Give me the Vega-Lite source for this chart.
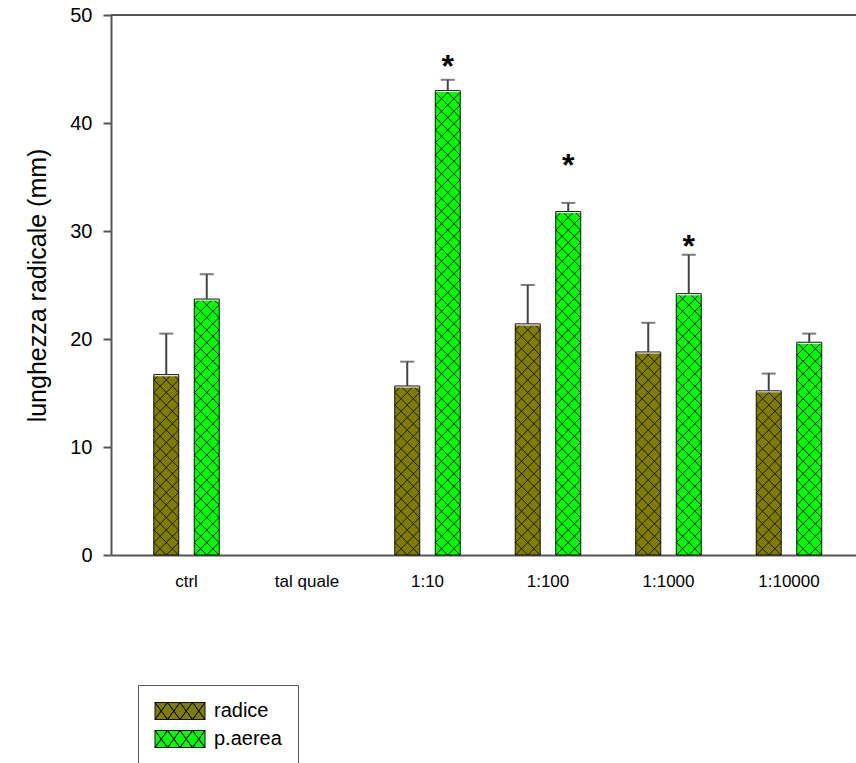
{
  "$schema": "https://vega.github.io/schema/vega-lite/v6.json",
  "width": 745,
  "height": 540,
  "autosize": {"type": "none"},
  "padding": {"left": 111, "top": 15, "right": 0, "bottom": 208},
  "background": "white",
  "config": {
    "font": "Liberation Sans",
    "view": {"stroke": null},
    "axis": {"domainColor": "#555", "domainWidth": 2, "tickColor": "#555", "tickWidth": 2, "labelColor": "#000", "titleColor": "#000", "grid": false}
  },
  "datasets": {
    "bars": [
      {"cat": "ctrl", "serie": "radice", "value": 16.7, "upper": 20.5, "star": null},
      {"cat": "ctrl", "serie": "p.aerea", "value": 23.7, "upper": 26.0, "star": null},
      {"cat": "1:10", "serie": "radice", "value": 15.65, "upper": 17.9, "star": null},
      {"cat": "1:10", "serie": "p.aerea", "value": 43.0, "upper": 44.0, "star": 45.6},
      {"cat": "1:100", "serie": "radice", "value": 21.4, "upper": 25.0, "star": null},
      {"cat": "1:100", "serie": "p.aerea", "value": 31.8, "upper": 32.6, "star": 36.4},
      {"cat": "1:1000", "serie": "radice", "value": 18.8, "upper": 21.5, "star": null},
      {"cat": "1:1000", "serie": "p.aerea", "value": 24.2, "upper": 27.8, "star": 28.9},
      {"cat": "1:10000", "serie": "radice", "value": 15.2, "upper": 16.8, "star": null},
      {"cat": "1:10000", "serie": "p.aerea", "value": 19.7, "upper": 20.5, "star": null}
    ]
  },
  "layer": [
    {
      "data": {"name": "bars"},
      "mark": {"type": "bar", "strokeWidth": 0},
      "encoding": {
        "x": {
          "field": "cat", "type": "nominal",
          "scale": {"domain": ["ctrl", "tal quale", "1:10", "1:100", "1:1000", "1:10000"], "paddingInner": 0, "paddingOuter": 0.0913, "align": 0.693},
          "axis": {"title": null, "ticks": false, "tickSize": 0, "labelPadding": 18, "labelFontSize": 17, "labelAlign": "center", "labelAngle": 0}
        },
        "xOffset": {
          "field": "serie", "type": "nominal",
          "scale": {"domain": ["radice", "p.aerea"], "paddingInner": 0.383, "paddingOuter": 0.679}
        },
        "y": {
          "field": "value", "type": "quantitative",
          "scale": {"domain": [0, 50], "nice": false},
          "axis": {"values": [0, 10, 20, 30, 40, 50], "tickSize": 8, "labelPadding": 11, "labelFontSize": 20, "title": "lunghezza radicale (mm)", "titleFontSize": 25, "titleFontWeight": "normal", "titleX": -74, "titleY": 270, "titleAngle": -90, "titleAlign": "center", "titleBaseline": "middle"}
        },
        "fill": {
          "field": "serie", "type": "nominal",
          "scale": {"domain": ["radice", "p.aerea"], "range": ["#807c00", "#00ff00"]},
          "legend": {
            "title": null, "orient": "none", "legendX": 27, "legendY": 670,
            "symbolType": "M-1.8,-1.7H8.2V1.7H-1.8ZM-1.8,-1.7L0.7,1.7L3.2,-1.7L5.7,1.7L8.2,-1.7L5.7,1.7L3.2,-1.7L0.7,1.7ZM-1.8,1.7L0.7,-1.7L3.2,1.7L5.7,-1.7L8.2,1.7L5.7,-1.7L3.2,1.7L0.7,-1.7Z",
            "symbolSize": 100, "symbolStrokeColor": "#111", "symbolStrokeWidth": 1, "symbolOpacity": 1,
            "labelOffset": 40, "labelFontSize": 20, "labelColor": "#000",
            "strokeColor": "#555", "padding": 16, "rowPadding": 6
          }
        }
      }
    },
    {
      "data": {"name": "bars"},
      "mark": {
        "type": "point", "filled": false, "size": 4, "opacity": 1, "stroke": "#1a1a1a", "strokeWidth": 1, "strokeJoin": "bevel",
        "shape": "M-12.3,0L12.3,-25L-12.3,-50L12.3,-75L-12.3,-100L12.3,-125L-12.3,-150L12.3,-175L-12.3,-200L12.3,-225L-12.3,-250L12.3,-275L-12.3,-300L12.3,-325L-12.3,-350L12.3,-375L-12.3,-400L12.3,-425L-12.3,-450L12.3,-475M12.3,0L-12.3,-25L12.3,-50L-12.3,-75L12.3,-100L-12.3,-125L12.3,-150L-12.3,-175L12.3,-200L-12.3,-225L12.3,-250L-12.3,-275L12.3,-300L-12.3,-325L12.3,-350L-12.3,-375L12.3,-400L-12.3,-425L12.3,-450L-12.3,-475M0,0L-12.3,-12.5L12.3,-37.5L-12.3,-62.5L12.3,-87.5L-12.3,-112.5L12.3,-137.5L-12.3,-162.5L12.3,-187.5L-12.3,-212.5L12.3,-237.5L-12.3,-262.5L12.3,-287.5L-12.3,-312.5L12.3,-337.5L-12.3,-362.5L12.3,-387.5L-12.3,-412.5L12.3,-437.5L-12.3,-462.5M0,0L12.3,-12.5L-12.3,-37.5L12.3,-62.5L-12.3,-87.5L12.3,-112.5L-12.3,-137.5L12.3,-162.5L-12.3,-187.5L12.3,-212.5L-12.3,-237.5L12.3,-262.5L-12.3,-287.5L12.3,-312.5L-12.3,-337.5L12.3,-362.5L-12.3,-387.5L12.3,-412.5L-12.3,-437.5L12.3,-462.5"
      },
      "encoding": {
        "x": {"field": "cat", "type": "nominal"},
        "xOffset": {"field": "serie", "type": "nominal"},
        "y": {"datum": 0, "type": "quantitative"}
      }
    },
    {
      "data": {"name": "bars"},
      "mark": {"type": "bar", "fill": "white", "stroke": "white", "strokeWidth": 3},
      "encoding": {
        "x": {"field": "cat", "type": "nominal"},
        "xOffset": {"field": "serie", "type": "nominal"},
        "y": {"field": "value", "type": "quantitative"},
        "y2": {"datum": 50}
      }
    },
    {
      "data": {"name": "bars"},
      "mark": {"type": "bar", "fill": null, "fillOpacity": 0, "stroke": "#111", "strokeWidth": 1},
      "encoding": {
        "x": {"field": "cat", "type": "nominal"},
        "xOffset": {"field": "serie", "type": "nominal"},
        "y": {"field": "value", "type": "quantitative"}
      }
    },
    {
      "data": {"name": "bars"},
      "mark": {"type": "rule", "color": "#444", "strokeWidth": 2},
      "encoding": {
        "x": {"field": "cat", "type": "nominal"},
        "xOffset": {"field": "serie", "type": "nominal"},
        "y": {"field": "value", "type": "quantitative"},
        "y2": {"field": "upper"}
      }
    },
    {
      "data": {"name": "bars"},
      "mark": {"type": "tick", "color": "#444", "thickness": 2, "size": 14},
      "encoding": {
        "x": {"field": "cat", "type": "nominal"},
        "xOffset": {"field": "serie", "type": "nominal"},
        "y": {"field": "upper", "type": "quantitative"}
      }
    },
    {
      "data": {"name": "bars"},
      "transform": [{"filter": "datum.star != null"}],
      "mark": {"type": "text", "text": "*", "fontSize": 32, "fontWeight": "bold", "baseline": "middle", "dy": 4, "color": "#000"},
      "encoding": {
        "x": {"field": "cat", "type": "nominal"},
        "xOffset": {"field": "serie", "type": "nominal"},
        "y": {"field": "star", "type": "quantitative"}
      }
    },
    {
      "data": {"values": [{"top": 50}]},
      "mark": {"type": "rule", "color": "#555", "strokeWidth": 2},
      "encoding": {"y": {"field": "top", "type": "quantitative"}}
    }
  ]
}
